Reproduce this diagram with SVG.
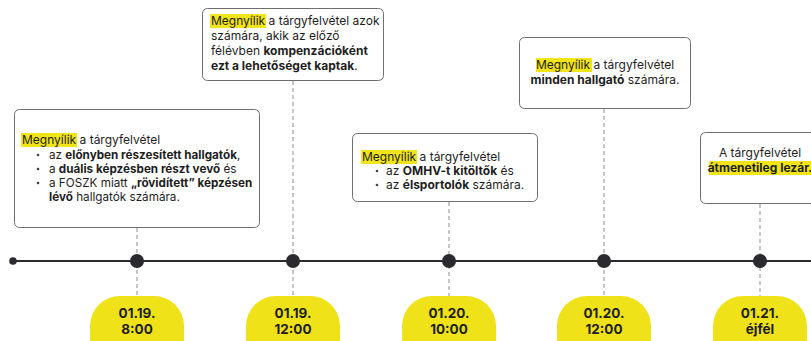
<svg xmlns="http://www.w3.org/2000/svg" width="811" height="341" viewBox="0 0 811 341">
<style>
.box{fill:#fff;stroke:#6e6e6e;stroke-width:1}
.t{font-family:Inter,"Noto Sans",sans-serif;font-size:12px;fill:#1e1e1e}
.s{font-size:11.7px}
.b{font-weight:700}
.hl{fill:#f1e51a}
.bul{fill:#444}
.dash{stroke:#a8a8a8;stroke-width:1.3;stroke-dasharray:4 3;fill:none}
.pill{fill:#efe219}
.pt{font-family:Inter,"Noto Sans",sans-serif;font-size:13.5px;font-weight:700;fill:#1e1e1e;text-anchor:middle}
.dot{fill:#2a2a2f}
</style>
<rect width="811" height="341" fill="#fff"/>
<g id="connectors">
<line class="dash" x1="137" y1="228" x2="137" y2="297"/>
<line class="dash" x1="293" y1="81" x2="293" y2="297"/>
<line class="dash" x1="449" y1="202" x2="449" y2="297"/>
<line class="dash" x1="604" y1="109" x2="604" y2="297"/>
<line class="dash" x1="760" y1="204" x2="760" y2="297"/>
<line x1="13" y1="261" x2="811" y2="261" stroke="#2a2a2f" stroke-width="2"/>
<circle class="dot" cx="13" cy="261" r="3.8"/>
<circle class="dot" cx="137" cy="261" r="7"/>
<circle class="dot" cx="293" cy="261" r="7"/>
<circle class="dot" cx="449" cy="261" r="7"/>
<circle class="dot" cx="604" cy="261" r="7"/>
<circle class="dot" cx="760" cy="261" r="7"/>
</g>
<g id="box1">
<rect class="box" x="14.5" y="109.5" width="245" height="118" rx="5"/>
<rect class="hl" x="21" y="133" width="56" height="14"/>
<text class="t" x="22" y="144">Megnyílik a tárgyfelvétel</text>
<circle class="bul" cx="38" cy="155" r="1.3"/>
<text class="t s" x="49" y="159">az <tspan class="b">előnyben részesített hallgatók</tspan>,</text>
<circle class="bul" cx="38" cy="169" r="1.3"/>
<text class="t s" x="49" y="173">a <tspan class="b">duális képzésben részt vevő</tspan> és</text>
<circle class="bul" cx="38" cy="183" r="1.3"/>
<text class="t s" x="49" y="187">a FOSZK miatt <tspan class="b">„rövidített” képzésen</tspan></text>
<text class="t s" x="49" y="201"><tspan class="b">lévő</tspan> hallgatók számára.</text>
</g>
<g id="box2">
<rect class="box" x="202.5" y="8.5" width="181" height="72" rx="5"/>
<rect class="hl" x="210" y="14" width="56" height="14"/>
<text class="t" x="211" y="25">Megnyílik a tárgyfelvétel azok</text>
<text class="t" x="211" y="40">számára, akik az előző</text>
<text class="t" x="211" y="55">félévben <tspan class="b">kompenzációként</tspan></text>
<text class="t" x="211" y="70"><tspan class="b">ezt a lehetőséget kaptak</tspan>.</text>
</g>
<g id="box3">
<rect class="box" x="352.5" y="133.5" width="185" height="68" rx="5"/>
<rect class="hl" x="361" y="150" width="56" height="14"/>
<text class="t" x="362" y="161">Megnyílik a tárgyfelvétel</text>
<circle class="bul" cx="377" cy="171" r="1.3"/>
<text class="t" x="386" y="175">az <tspan class="b">OMHV-t kitöltők</tspan> és</text>
<circle class="bul" cx="377" cy="185" r="1.3"/>
<text class="t" x="386" y="189">az <tspan class="b">élsportolók</tspan> számára.</text>
</g>
<g id="box4">
<rect class="box" x="519.5" y="37.5" width="171" height="71" rx="5"/>
<rect class="hl" x="536" y="58" width="56" height="14"/>
<text class="t" x="605" y="69" text-anchor="middle">Megnyílik a tárgyfelvétel</text>
<text class="t" x="605" y="84" text-anchor="middle"><tspan class="b">minden hallgató</tspan> számára.</text>
</g>
<g id="box5">
<rect class="box" x="700.5" y="132.5" width="125" height="71" rx="5"/>
<rect class="hl" x="709" y="161" width="104" height="14"/>
<text class="t" x="760" y="157" text-anchor="middle">A tárgyfelvétel</text>
<text class="t b" x="760" y="172" text-anchor="middle">átmenetileg lezár.</text>
</g>
<g id="pill1"><rect class="pill" x="90" y="296" width="94" height="80" rx="30"/><text class="pt" x="137" y="318">01.19.</text><text class="pt" x="137" y="334">8:00</text></g>
<g id="pill2"><rect class="pill" x="246" y="296" width="94" height="80" rx="30"/><text class="pt" x="293" y="318">01.19.</text><text class="pt" x="293" y="334">12:00</text></g>
<g id="pill3"><rect class="pill" x="402" y="296" width="94" height="80" rx="30"/><text class="pt" x="449" y="318">01.20.</text><text class="pt" x="449" y="334">10:00</text></g>
<g id="pill4"><rect class="pill" x="557" y="296" width="94" height="80" rx="30"/><text class="pt" x="604" y="318">01.20.</text><text class="pt" x="604" y="334">12:00</text></g>
<g id="pill5"><rect class="pill" x="713" y="296" width="94" height="80" rx="30"/><text class="pt" x="760" y="318">01.21.</text><text class="pt" x="760" y="334">éjfél</text></g>
</svg>
